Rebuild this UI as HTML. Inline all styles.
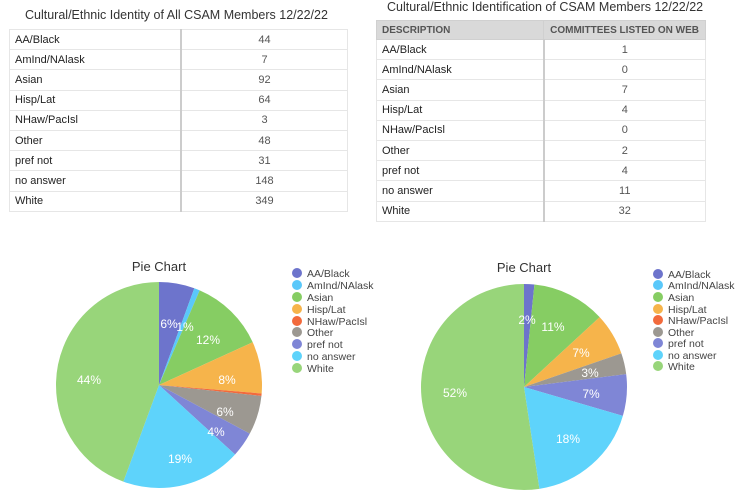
<!DOCTYPE html>
<html><head><style>
body{margin:0;width:744px;height:502px;background:#fff;font-family:"Liberation Sans",sans-serif;position:relative;overflow:hidden}
.t{position:absolute;border-collapse:collapse;font-size:11px;color:#222}
.t td{height:19.2px;border:1px solid #e6e6e6;padding:0 0 0 5px}
.t td.v{text-align:center;padding:0;color:#555;border-left:2px solid #ccc}
.t th{background:#d9d9d9;color:#555;font-size:10px;height:16px;text-align:left;padding-left:5px;border:1px solid #d0d0d0;white-space:nowrap}
.title{position:absolute;font-size:12.5px;color:#333}
</style></head><body>
<div class="title" style="left:25px;top:8px">Cultural/Ethnic Identity of All CSAM Members 12/22/22</div>
<table class="t" style="left:9px;top:29px;width:339px">
<tr><td style="width:165px">AA/Black</td><td class="v">44</td></tr>
<tr><td>AmInd/NAlask</td><td class="v">7</td></tr>
<tr><td>Asian</td><td class="v">92</td></tr>
<tr><td>Hisp/Lat</td><td class="v">64</td></tr>
<tr><td>NHaw/PacIsl</td><td class="v">3</td></tr>
<tr><td>Other</td><td class="v">48</td></tr>
<tr><td>pref not</td><td class="v">31</td></tr>
<tr><td>no answer</td><td class="v">148</td></tr>
<tr><td>White</td><td class="v">349</td></tr>
</table>
<div class="title" style="left:387px;top:0px">Cultural/Ethnic Identification of CSAM Members 12/22/22</div>
<table class="t" style="left:376px;top:20px;width:330px">
<tr><th style="width:160px">DESCRIPTION</th><th style="text-align:right;padding-right:6px">COMMITTEES LISTED ON WEB</th></tr>
<tr><td>AA/Black</td><td class="v">1</td></tr>
<tr><td>AmInd/NAlask</td><td class="v">0</td></tr>
<tr><td>Asian</td><td class="v">7</td></tr>
<tr><td>Hisp/Lat</td><td class="v">4</td></tr>
<tr><td>NHaw/PacIsl</td><td class="v">0</td></tr>
<tr><td>Other</td><td class="v">2</td></tr>
<tr><td>pref not</td><td class="v">4</td></tr>
<tr><td>no answer</td><td class="v">11</td></tr>
<tr><td>White</td><td class="v">32</td></tr>
</table>
<svg width="744" height="502" style="position:absolute;left:0;top:0" font-family="Liberation Sans, sans-serif">
<g transform="translate(159,385) rotate(-90)" fill="none" stroke-width="103">
<circle r="51.5" stroke="#6d74cc" stroke-dasharray="18.03 400" stroke-dashoffset="0"/>
<circle r="51.5" stroke="#5ac8fa" stroke-dasharray="2.87 400" stroke-dashoffset="-18.03"/>
<circle r="51.5" stroke="#86cd63" stroke-dasharray="37.87 400" stroke-dashoffset="-20.9"/>
<circle r="51.5" stroke="#f6b44b" stroke-dasharray="26.34 400" stroke-dashoffset="-58.77"/>
<circle r="51.5" stroke="#f26a3c" stroke-dasharray="1.23 400" stroke-dashoffset="-85.11"/>
<circle r="51.5" stroke="#9c9891" stroke-dasharray="19.76 400" stroke-dashoffset="-86.34"/>
<circle r="51.5" stroke="#7f86d6" stroke-dasharray="12.76 400" stroke-dashoffset="-106.1"/>
<circle r="51.5" stroke="#5ed3fb" stroke-dasharray="60.93 400" stroke-dashoffset="-118.86"/>
<circle r="51.5" stroke="#98d57a" stroke-dasharray="143.8 400" stroke-dashoffset="-179.79"/>
</g>
<g transform="translate(524,387) rotate(-90)" fill="none" stroke-width="103">
<circle r="51.5" stroke="#6d74cc" stroke-dasharray="5.3 400" stroke-dashoffset="0"/>
<circle r="51.5" stroke="#86cd63" stroke-dasharray="37.13 400" stroke-dashoffset="-5.3"/>
<circle r="51.5" stroke="#f6b44b" stroke-dasharray="21.22 400" stroke-dashoffset="-42.43"/>
<circle r="51.5" stroke="#9c9891" stroke-dasharray="10.61 400" stroke-dashoffset="-63.65"/>
<circle r="51.5" stroke="#7f86d6" stroke-dasharray="21.22 400" stroke-dashoffset="-74.26"/>
<circle r="51.5" stroke="#5ed3fb" stroke-dasharray="58.35 400" stroke-dashoffset="-95.48"/>
<circle r="51.5" stroke="#98d57a" stroke-dasharray="169.76 400" stroke-dashoffset="-153.83"/>
</g>
<g fill="#fff" font-size="12" text-anchor="middle">
<text x="169" y="328">6%</text><text x="185" y="331">1%</text><text x="208" y="344">12%</text>
<text x="227" y="384">8%</text><text x="225" y="416">6%</text><text x="216" y="436">4%</text>
<text x="180" y="463">19%</text><text x="89" y="384">44%</text>
<text x="527" y="324">2%</text><text x="553" y="331">11%</text><text x="581" y="357">7%</text>
<text x="590" y="377">3%</text><text x="591" y="398">7%</text><text x="568" y="443">18%</text><text x="455" y="397">52%</text>
</g>
<g fill="#333" font-size="13" text-anchor="middle"><text x="159" y="271">Pie Chart</text><text x="524" y="272">Pie Chart</text></g>
<g font-size="10.5" fill="#444">
<circle cx="297" cy="273" r="5" fill="#6d74cc"/><text x="307" y="277">AA/Black</text>
<circle cx="297" cy="285" r="5" fill="#5ac8fa"/><text x="307" y="289">AmInd/NAlask</text>
<circle cx="297" cy="297" r="5" fill="#86cd63"/><text x="307" y="301">Asian</text>
<circle cx="297" cy="309" r="5" fill="#f6b44b"/><text x="307" y="313">Hisp/Lat</text>
<circle cx="297" cy="321" r="5" fill="#f26a3c"/><text x="307" y="325">NHaw/PacIsl</text>
<circle cx="297" cy="332" r="5" fill="#9c9891"/><text x="307" y="336">Other</text>
<circle cx="297" cy="344" r="5" fill="#7f86d6"/><text x="307" y="348">pref not</text>
<circle cx="297" cy="356" r="5" fill="#5ed3fb"/><text x="307" y="360">no answer</text>
<circle cx="297" cy="368" r="5" fill="#98d57a"/><text x="307" y="372">White</text>
<circle cx="658" cy="274" r="5" fill="#6d74cc"/><text x="668" y="278">AA/Black</text>
<circle cx="658" cy="285" r="5" fill="#5ac8fa"/><text x="668" y="289">AmInd/NAlask</text>
<circle cx="658" cy="297" r="5" fill="#86cd63"/><text x="668" y="301">Asian</text>
<circle cx="658" cy="309" r="5" fill="#f6b44b"/><text x="668" y="313">Hisp/Lat</text>
<circle cx="658" cy="320" r="5" fill="#f26a3c"/><text x="668" y="324">NHaw/PacIsl</text>
<circle cx="658" cy="332" r="5" fill="#9c9891"/><text x="668" y="336">Other</text>
<circle cx="658" cy="343" r="5" fill="#7f86d6"/><text x="668" y="347">pref not</text>
<circle cx="658" cy="355" r="5" fill="#5ed3fb"/><text x="668" y="359">no answer</text>
<circle cx="658" cy="366" r="5" fill="#98d57a"/><text x="668" y="370">White</text>
</g>
</svg>
</body></html>
